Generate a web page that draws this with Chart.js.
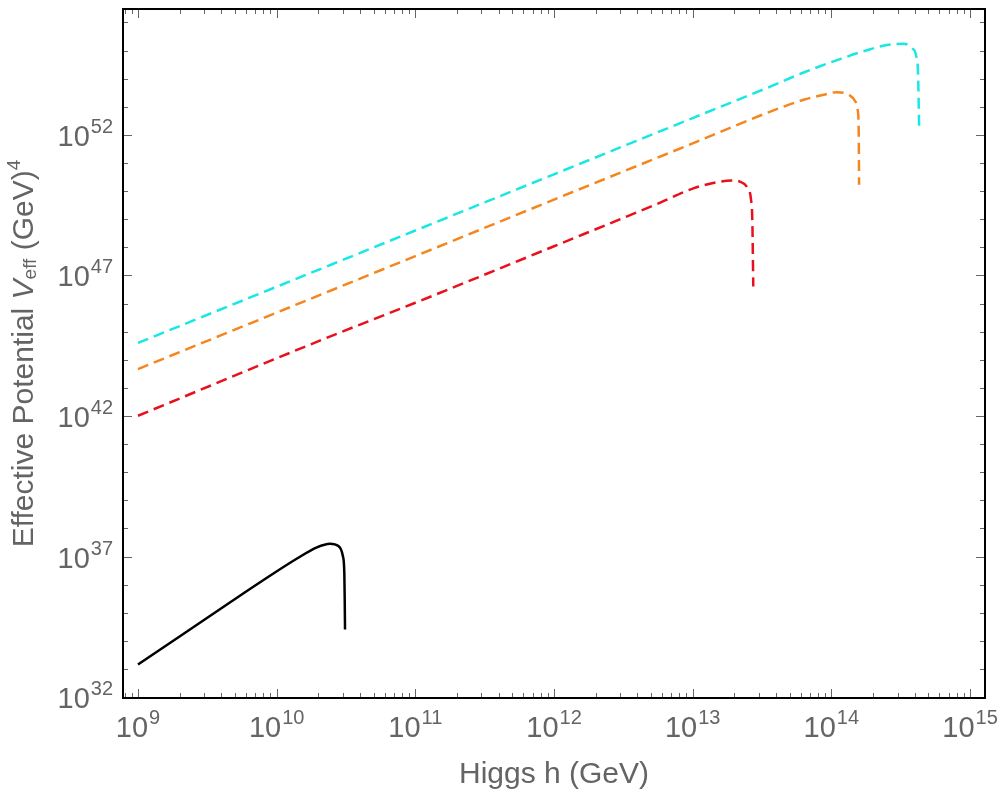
<!DOCTYPE html>
<html>
<head>
<meta charset="utf-8">
<title>Effective Potential</title>
<script src="https://cdn.jsdelivr.net/npm/chart.js@4.4.1/dist/chart.umd.min.js"></script>
<style>
	html, body { margin: 0; padding: 0; background: #fff; }
	#wrap { width: 1000px; height: 798px; }
</style>
</head>
<body>
<div id="wrap"><canvas id="veff-chart" width="1000" height="798"></canvas></div>
<script>
// log10 of h (GeV) and log10 of V_eff (GeV^4)
var blackLogH = [9.00, 9.30, 9.66, 9.90, 10.15, 10.29, 10.385, 10.445, 10.477, 10.488, 10.491, 10.493];
var blackLogV = [33.16, 34.16, 35.36, 36.15, 36.94, 37.33, 37.46, 37.38, 37.03, 36.42, 35.40, 34.41];

var redLogH = [9.00, 10.36, 11.00, 12.00, 12.77, 13.01, 13.20, 13.28, 13.34, 13.396, 13.421, 13.430, 13.437];
var redLogV = [42.01, 44.78, 46.03, 48.04, 49.60, 50.11, 50.34, 50.38, 50.34, 50.11, 49.69, 48.98, 46.61];

var orangeLogH = [9.00, 10.00, 11.00, 12.00, 13.00, 13.56, 13.80, 13.945, 14.041, 14.125, 14.173, 14.190, 14.197, 14.200];
var orangeLogV = [43.67, 45.68, 47.69, 49.70, 51.70, 52.83, 53.25, 53.43, 53.52, 53.43, 53.19, 52.89, 52.18, 50.23];

var cyanLogH = [9.00, 10.00, 11.00, 12.00, 13.00, 13.56, 13.80, 14.041, 14.281, 14.426, 14.522, 14.582, 14.613, 14.625, 14.633];
var cyanLogV = [44.60, 46.60, 48.60, 50.60, 52.60, 53.72, 54.22, 54.66, 55.05, 55.22, 55.24, 55.09, 54.79, 54.20, 52.30];

// axis ranges (log10) and tick exponents
var xRange = [8.892, 15.108];
var yRange = [31.97, 56.48];
var xLabelExp = [9, 10, 11, 12, 13, 14, 15];
var yLabelExp = [32, 37, 42, 47, 52];
var yMinorExp = [33, 34, 35, 36, 38, 39, 40, 41, 43, 44, 45, 46, 48, 49, 50, 51, 53, 54, 55, 56];
var xMinorMult = [2, 3, 4, 5, 6, 7, 8, 9];

var FONT = '"Liberation Sans", Arial, Helvetica, sans-serif';
var TEXT_COLOR = '#646464';
var TICK_COLOR = '#666666';

function toPoints(logH, logV) {
	var pts = [];
	for (var i = 0; i < logH.length; i++) {
		pts.push({ x: Math.pow(10, logH[i]), y: Math.pow(10, logV[i]) });
	}
	return pts;
}

// draws the mathematica-like frame, inward ticks, power labels and titles
var framePlugin = {
	id: 'frameTicks',
	afterDraw: function (chart) {
		var c = chart.ctx;
		var a = chart.chartArea;
		var sx = chart.scales.x, sy = chart.scales.y;
		var i, p, e;

		c.save();

		// ticks
		c.strokeStyle = TICK_COLOR;
		c.lineWidth = 1;
		var tick = function (x1, y1, x2, y2) {
			c.beginPath();
			c.moveTo(x1, y1);
			c.lineTo(x2, y2);
			c.stroke();
		};
		var majorLen = 9, minorLen = 5;
		for (i = 0; i < xLabelExp.length; i++) {
			p = Math.round(sx.getPixelForValue(Math.pow(10, xLabelExp[i]))) + 0.5;
			tick(p, a.bottom, p, a.bottom - majorLen);
			tick(p, a.top, p, a.top + majorLen);
		}
		for (e = 8; e <= 14; e++) {
			for (i = 0; i < xMinorMult.length; i++) {
				var v = xMinorMult[i] * Math.pow(10, e);
				var lv = Math.log10(v);
				if (lv < xRange[0] || lv > xRange[1]) continue;
				p = Math.round(sx.getPixelForValue(v)) + 0.5;
				tick(p, a.bottom, p, a.bottom - minorLen);
				tick(p, a.top, p, a.top + minorLen);
			}
		}
		for (i = 0; i < yLabelExp.length; i++) {
			p = Math.round(sy.getPixelForValue(Math.pow(10, yLabelExp[i]))) + 0.5;
			tick(a.left, p, a.left + majorLen, p);
			tick(a.right, p, a.right - majorLen, p);
		}
		for (i = 0; i < yMinorExp.length; i++) {
			p = Math.round(sy.getPixelForValue(Math.pow(10, yMinorExp[i]))) + 0.5;
			tick(a.left, p, a.left + minorLen, p);
			tick(a.right, p, a.right - minorLen, p);
		}

		// frame
		c.strokeStyle = '#000';
		c.lineWidth = 2;
		c.strokeRect(a.left, a.top, a.right - a.left, a.bottom - a.top);

		// tick labels, 10 with a raised exponent
		c.fillStyle = TEXT_COLOR;
		c.textBaseline = 'alphabetic';
		c.textAlign = 'left';
		var bigFont = '29px ' + FONT, supFont = '20px ' + FONT;
		var powerWidth = function (exp) {
			c.font = bigFont;
			var w1 = c.measureText('10').width;
			c.font = supFont;
			return [w1, c.measureText(String(exp)).width];
		};
		var drawPower = function (x0, base, exp) {
			c.font = bigFont;
			c.fillText('10', x0, base);
			var w1 = c.measureText('10').width;
			c.font = supFont;
			c.fillText(String(exp), x0 + w1 + 1, base - 13);
		};
		for (i = 0; i < xLabelExp.length; i++) {
			p = sx.getPixelForValue(Math.pow(10, xLabelExp[i]));
			var w = powerWidth(xLabelExp[i]);
			drawPower(p - (w[0] + w[1] + 1) / 2, a.bottom + 39, xLabelExp[i]);
		}
		for (i = 0; i < yLabelExp.length; i++) {
			p = sy.getPixelForValue(Math.pow(10, yLabelExp[i]));
			var wy = powerWidth(yLabelExp[i]);
			drawPower(a.left - 10 - (wy[0] + wy[1] + 1), p + 11, yLabelExp[i]);
		}

		// x title
		c.font = '30px ' + FONT;
		c.textAlign = 'center';
		c.fillText('Higgs h (GeV)', (a.left + a.right) / 2, 783);

		// y title, rotated, with V_eff and (GeV)^4
		var parts = [
			{ t: 'Effective Potential ', f: '30px ' + FONT, dy: 0 },
			{ t: 'V', f: 'italic 30px ' + FONT, dy: 0 },
			{ t: 'eff', f: '19px ' + FONT, dy: 3 },
			{ t: ' (GeV)', f: '30px ' + FONT, dy: 0 },
			{ t: '4', f: '19px ' + FONT, dy: -13 }
		];
		var total = 0;
		for (i = 0; i < parts.length; i++) {
			c.font = parts[i].f;
			parts[i].w = c.measureText(parts[i].t).width;
			total += parts[i].w;
		}
		c.translate(33, (a.top + a.bottom) / 2);
		c.rotate(-Math.PI / 2);
		c.textAlign = 'left';
		var cx = -total / 2;
		for (i = 0; i < parts.length; i++) {
			c.font = parts[i].f;
			c.fillText(parts[i].t, cx, parts[i].dy);
			cx += parts[i].w;
		}

		c.restore();
	}
};

var lineStyle = function (label, logH, logV, color, dashed) {
	return {
		label: label,
		data: toPoints(logH, logV),
		borderColor: color,
		borderWidth: 2.5,
		borderDash: dashed ? [11, 6] : [],
		pointRadius: 0,
		fill: false,
		cubicInterpolationMode: 'monotone'
	};
};

var ctx = document.getElementById('veff-chart').getContext('2d');
var veffChart = new Chart(ctx, {
	type: 'line',
	data: {
		datasets: [
			lineStyle('black', blackLogH, blackLogV, '#000000', false),
			lineStyle('red', redLogH, redLogV, '#e8101c', true),
			lineStyle('orange', orangeLogH, orangeLogV, '#f5861f', true),
			lineStyle('cyan', cyanLogH, cyanLogV, '#19e6e6', true)
		]
	},
	options: {
		responsive: false,
		animation: false,
		devicePixelRatio: 1,
		layout: { padding: { left: 123, top: 9, right: 15, bottom: 100 } },
		plugins: {
			legend: { display: false },
			tooltip: { enabled: false }
		},
		scales: {
			x: {
				type: 'logarithmic',
				display: false,
				min: Math.pow(10, xRange[0]),
				max: Math.pow(10, xRange[1])
			},
			y: {
				type: 'logarithmic',
				display: false,
				min: Math.pow(10, yRange[0]),
				max: Math.pow(10, yRange[1])
			}
		}
	},
	plugins: [framePlugin]
});
</script>
</body>
</html>
